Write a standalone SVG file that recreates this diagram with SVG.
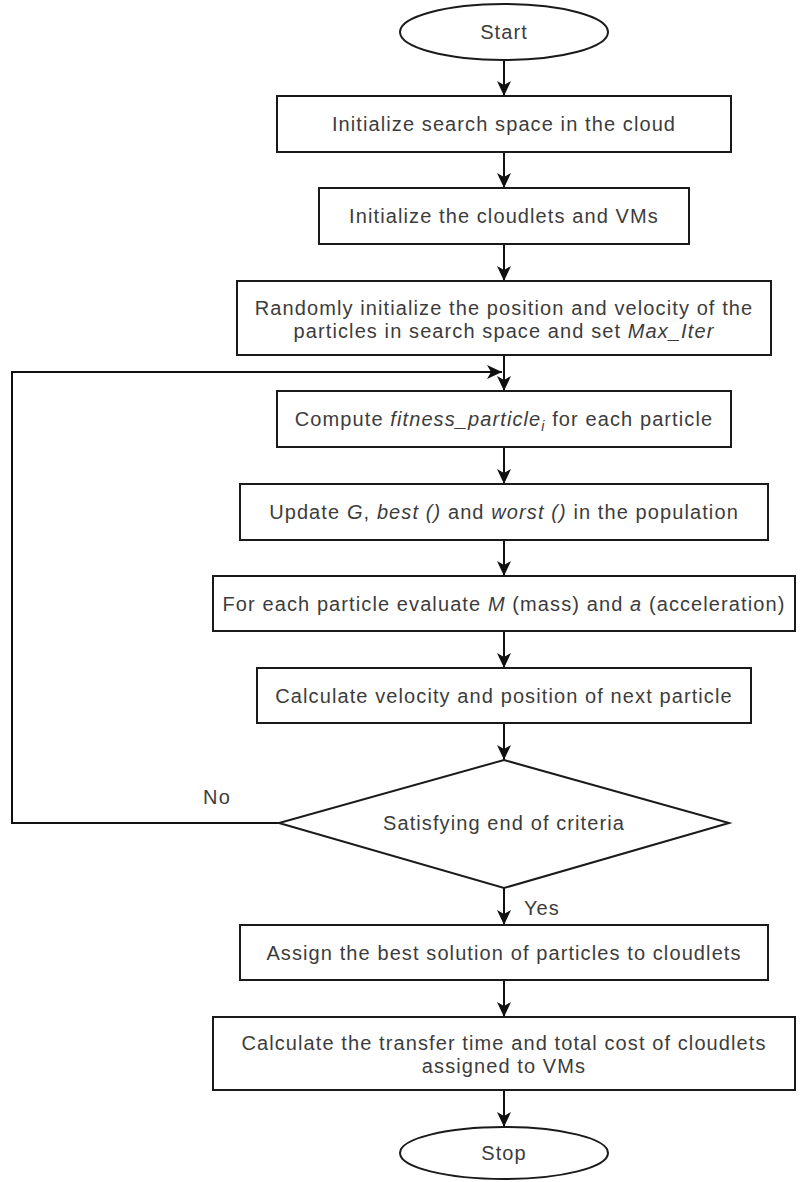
<svg xmlns="http://www.w3.org/2000/svg" width="801" height="1182" viewBox="0 0 801 1182">
<style>
.s{fill:#fff;stroke:#1a1a1a;stroke-width:2}
.c{fill:none;stroke:#111;stroke-width:2}
text{font-family:"Liberation Sans",Arial,sans-serif;font-size:20px;fill:#3c3c3c;letter-spacing:1.1px}
.m{text-anchor:middle}
.i{font-style:italic}
</style>
<defs>
<marker id="ah" markerUnits="userSpaceOnUse" markerWidth="15" markerHeight="14" refX="15" refY="7" orient="auto">
<path d="M0,0 L15,7 L0,14 L4,7 Z" fill="#111"/>
</marker>
</defs>
<rect width="801" height="1182" fill="#fff"/>
<g id="connectors">
<line class="c" x1="504" y1="60" x2="504" y2="96" marker-end="url(#ah)"/>
<line class="c" x1="504" y1="152" x2="504" y2="188" marker-end="url(#ah)"/>
<line class="c" x1="504" y1="244" x2="504" y2="281" marker-end="url(#ah)"/>
<line class="c" x1="504" y1="355" x2="504" y2="391" marker-end="url(#ah)"/>
<line class="c" x1="504" y1="447" x2="504" y2="484" marker-end="url(#ah)"/>
<line class="c" x1="504" y1="540" x2="504" y2="576" marker-end="url(#ah)"/>
<line class="c" x1="504" y1="631" x2="504" y2="668" marker-end="url(#ah)"/>
<line class="c" x1="504" y1="723" x2="504" y2="760" marker-end="url(#ah)"/>
<polyline class="c" points="279,823 12,823 12,372 502,372" marker-end="url(#ah)"/>
<line class="c" x1="504" y1="888" x2="504" y2="925" marker-end="url(#ah)"/>
<line class="c" x1="504" y1="980" x2="504" y2="1017" marker-end="url(#ah)"/>
<line class="c" x1="504" y1="1090" x2="504" y2="1127" marker-end="url(#ah)"/>
<text x="217" y="804" class="m">No</text>
<text x="524" y="915">Yes</text>
</g>
<g id="start">
<ellipse class="s" cx="504" cy="32" rx="104" ry="28"/>
<text x="504" y="39" class="m">Start</text>
</g>
<g id="init-space">
<rect class="s" x="277" y="96" width="454" height="56"/>
<text x="504" y="131" class="m">Initialize search space in the cloud</text>
</g>
<g id="init-cloudlets">
<rect class="s" x="319" y="188" width="370" height="56"/>
<text x="504" y="223" class="m">Initialize the cloudlets and VMs</text>
</g>
<g id="random-init">
<rect class="s" x="237" y="281" width="534" height="74"/>
<text x="504" y="315" class="m">Randomly initialize the position and velocity of the</text>
<text x="504" y="338" class="m">particles in search space and set <tspan class="i">Max_Iter</tspan></text>
</g>
<g id="compute-fitness">
<rect class="s" x="277" y="391" width="454" height="56"/>
<text x="504" y="426" class="m">Compute <tspan class="i">fitness_particle</tspan><tspan class="i" font-size="14" dy="5">i</tspan><tspan dy="-5"> for each particle</tspan></text>
</g>
<g id="update">
<rect class="s" x="240" y="484" width="528" height="56"/>
<text x="504" y="519" class="m">Update <tspan class="i">G</tspan>, <tspan class="i">best ()</tspan> and <tspan class="i">worst ()</tspan> in the population</text>
</g>
<g id="evaluate">
<rect class="s" x="213" y="576" width="582" height="55"/>
<text x="504" y="611" class="m">For each particle evaluate <tspan class="i">M</tspan> (mass) and <tspan class="i">a</tspan> (acceleration)</text>
</g>
<g id="calc-velocity">
<rect class="s" x="257" y="668" width="494" height="55"/>
<text x="504" y="703" class="m">Calculate velocity and position of next particle</text>
</g>
<g id="decision">
<polygon class="s" points="504,760 729,823 504,888 279,823"/>
<text x="504" y="830" class="m">Satisfying end of criteria</text>
</g>
<g id="assign">
<rect class="s" x="240" y="925" width="528" height="55"/>
<text x="504" y="960" class="m">Assign the best solution of particles to cloudlets</text>
</g>
<g id="calc-cost">
<rect class="s" x="213" y="1017" width="582" height="73"/>
<text x="504" y="1050" class="m">Calculate the transfer time and total cost of cloudlets</text>
<text x="504" y="1073" class="m">assigned to VMs</text>
</g>
<g id="stop">
<ellipse class="s" cx="504" cy="1153" rx="104" ry="26"/>
<text x="504" y="1160" class="m">Stop</text>
</g>
</svg>
